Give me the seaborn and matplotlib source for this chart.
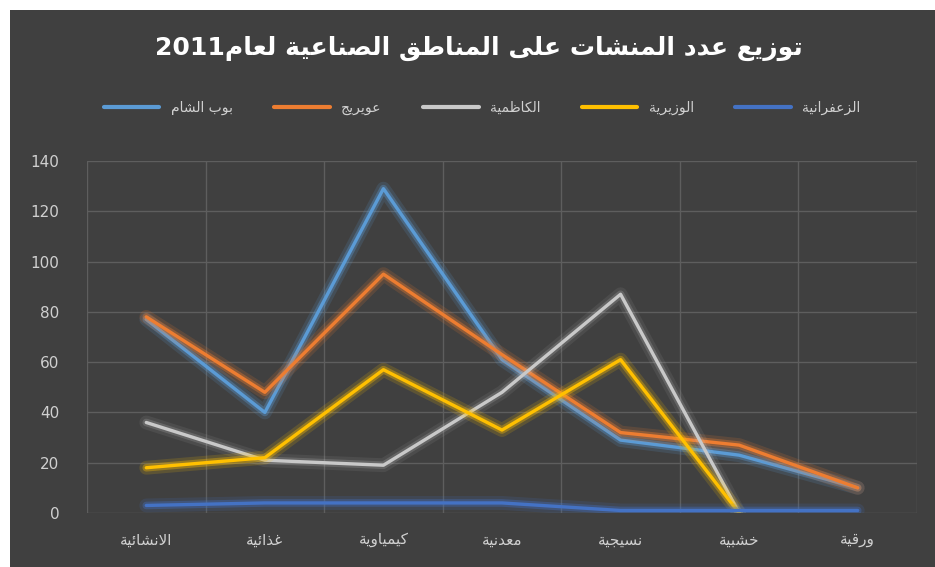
import re
import pandas as pd
import matplotlib
matplotlib.use('Agg')
import matplotlib.pyplot as plt
import matplotlib.patheffects as pe
from matplotlib.patches import Rectangle
import seaborn as sns

# Chart data
categories = ['الانشائية', 'غذائية', 'كيمياوية', 'معدنية', 'نسيجية', 'خشبية', 'ورقية']
series_names = ['بوب الشام', 'عويريج', 'الكاظمية', 'الوزيرية', 'الزعفرانية']
bab_al_sham = [77, 40, 129, 61, 29, 23, 10]
owairij = [78, 48, 95, 63, 32, 27, 10]
kadhimiya = [36, 21, 19, 48, 87, 0, None]
waziriya = [18, 22, 57, 33, 61, 0, None]
zafaraniya = [3, 4, 4, 4, 1, 1, 1]
y_ticks = [0, 20, 40, 60, 80, 100, 120, 140]
title_text = 'توزيع عدد المنشات على المناطق الصناعية لعام2011'

colors = ['#5B9BD5', '#ED7D31', '#C9C9C9', '#FFC000', '#4472C4']
glow_alpha = [0.35, 0.35, 0.2, 0.35, 0.35]
BG = '#404040'
TEXT = '#D0D0D0'

# matplotlib has no Arabic shaping, so map letters to presentation forms
AR_FORMS = {}
_code = 0xFE80
for ch, n in [('ء', 1), ('آ', 2), ('أ', 2), ('ؤ', 2), ('إ', 2), ('ئ', 4), ('ا', 2),
              ('ب', 4), ('ة', 2), ('ت', 4), ('ث', 4), ('ج', 4), ('ح', 4), ('خ', 4),
              ('د', 2), ('ذ', 2), ('ر', 2), ('ز', 2), ('س', 4), ('ش', 4), ('ص', 4),
              ('ض', 4), ('ط', 4), ('ظ', 4), ('ع', 4), ('غ', 4), ('ف', 4), ('ق', 4),
              ('ك', 4), ('ل', 4), ('م', 4), ('ن', 4), ('ه', 4), ('و', 2), ('ى', 2),
              ('ي', 4)]:
    AR_FORMS[ch] = [chr(_code + i) for i in range(n)]
    _code += n
LAM_ALEF = {'آ': ('\uFEF5', '\uFEF6'), 'أ': ('\uFEF7', '\uFEF8'),
            'إ': ('\uFEF9', '\uFEFA'), 'ا': ('\uFEFB', '\uFEFC')}


def ar(text):
    out = []
    prev_joins = False
    i = 0
    while i < len(text):
        c = text[i]
        if c not in AR_FORMS:
            out.append(c)
            prev_joins = False
            i += 1
            continue
        if c == 'ل' and i + 1 < len(text) and text[i + 1] in LAM_ALEF:
            out.append(LAM_ALEF[text[i + 1]][1 if prev_joins else 0])
            prev_joins = False
            i += 2
            continue
        nxt = text[i + 1] if i + 1 < len(text) else ''
        forms = AR_FORMS[c]
        joins_next = len(forms) == 4 and nxt in AR_FORMS and nxt != 'ء'
        if prev_joins and joins_next:
            g = forms[3]
        elif prev_joins:
            g = forms[1]
        elif joins_next:
            g = forms[2]
        else:
            g = forms[0]
        out.append(g)
        prev_joins = joins_next
        i += 1
    vis = ''.join(reversed(out))
    return re.sub(r'[0-9]+', lambda m: m.group(0)[::-1], vis)


# Long-form table for seaborn
rows = []
for name, vals in zip(series_names, [bab_al_sham, owairij, kadhimiya, waziriya, zafaraniya]):
    for i, v in enumerate(vals):
        rows.append({'x': i, 'value': v, 'series': ar(name)})
df = pd.DataFrame(rows).dropna()

sns.set_theme(style='dark')
plt.rcParams['font.family'] = ['DejaVu Sans']

fig = plt.figure(figsize=(9.35, 5.67), dpi=100)
fig.patch.set_facecolor('white')
fig.patches.append(Rectangle((10 / 935, 0), 1, 1 - 10 / 567, transform=fig.transFigure,
                             facecolor=BG, edgecolor='none', zorder=-10))
ax = fig.add_axes([87 / 935, 54 / 567, 830 / 935, 352 / 567])
ax.set_facecolor(BG)

sns.lineplot(data=df, x='x', y='value', hue='series',
             hue_order=[ar(n) for n in series_names],
             palette=colors, linewidth=2.4, ax=ax, legend=True)

# glow around the lines
for line, a in zip(ax.lines, glow_alpha):
    c = line.get_color()
    line.set_path_effects([pe.Stroke(linewidth=10, foreground=c, alpha=a * 0.45),
                           pe.Stroke(linewidth=5.5, foreground=c, alpha=a),
                           pe.Normal()])

ax.set_xlim(-0.5, 6.5)
ax.set_ylim(0, 140)
ax.set_yticks(y_ticks)
ax.set_xticks(range(len(categories)))
ax.set_xticklabels([ar(c) for c in categories])
ax.set_xticks([i + 0.5 for i in range(-1, len(categories))], minor=True)
ax.grid(False)
ax.grid(True, axis='y', which='major', color='#5E5E5E', linewidth=1)
ax.grid(True, axis='x', which='minor', color='#5E5E5E', linewidth=1)
ax.tick_params(axis='both', which='both', length=0, colors=TEXT, labelsize=11)
ax.tick_params(axis='x', pad=14)
ax.tick_params(axis='y', pad=20)
for s in ax.spines.values():
    s.set_visible(False)
ax.set_xlabel('')
ax.set_ylabel('')

handles, labels = ax.get_legend_handles_labels()
for h in handles:
    h.set_path_effects([])
    h.set_linewidth(3)
ax.legend(handles, labels, loc='center', bbox_to_anchor=(0.476, 1.15), ncol=5,
          frameon=False, fontsize=10, handlelength=4, columnspacing=3,
          labelcolor=TEXT)

fig.text(0.512, 0.915, ar(title_text), ha='center', va='center',
         fontsize=18, fontweight='bold', color='white')

fig.savefig('out.png', dpi=100, facecolor=fig.get_facecolor())
